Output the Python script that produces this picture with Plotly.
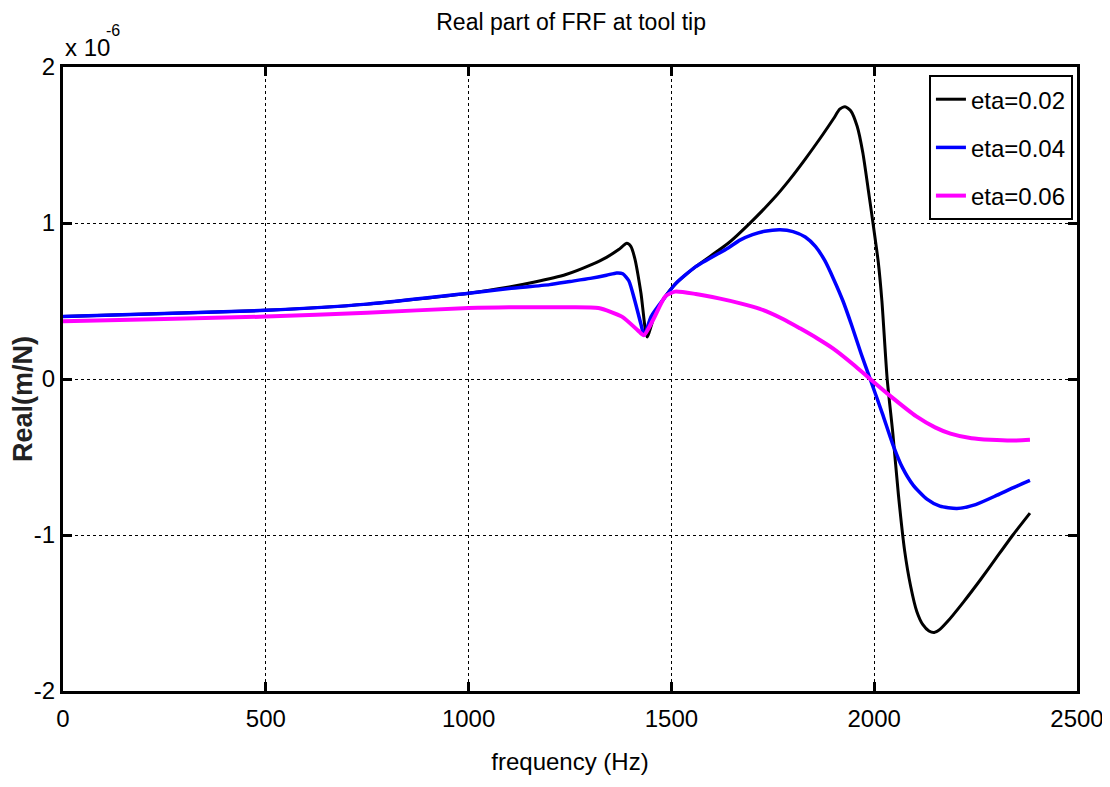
import plotly.graph_objects as go

# ---- data (values in units of 1e-6 m/N) ----
f_002 = [0, 250, 500, 750, 1000, 1100, 1160, 1240, 1300, 1340, 1370, 1390, 1400, 1410, 1425,
         1440, 1460, 1480, 1510, 1560, 1640, 1690, 1750, 1792, 1830, 1866, 1900, 1915, 1928,
         1942, 1958, 1972, 1985, 1997, 2010, 2019, 2032, 2046, 2060, 2075, 2090, 2105, 2120,
         2135, 2148, 2162, 2179, 2220, 2261, 2300, 2342, 2384]
v_002 = [0.40, 0.42, 0.44, 0.48, 0.55, 0.59, 0.62, 0.67, 0.73, 0.78, 0.83, 0.87, 0.85, 0.77, 0.55,
         0.27, 0.42, 0.51, 0.61, 0.72, 0.87, 0.99, 1.15, 1.28, 1.41, 1.54, 1.67, 1.73, 1.745,
         1.72, 1.62, 1.45, 1.22, 1.00, 0.75, 0.50, 0.00, -0.35, -0.75, -1.10, -1.33, -1.49, -1.575,
         -1.615, -1.625, -1.605, -1.56, -1.43, -1.29, -1.15, -1.00, -0.86]

f_004 = [0, 250, 500, 750, 1000, 1100, 1200, 1250, 1300, 1340, 1365, 1380, 1395, 1410, 1425,
         1433, 1450, 1480, 1510, 1560, 1640, 1669, 1700, 1730, 1768, 1800, 1830, 1855, 1878,
         1900, 1923, 1945, 1968, 1990, 2020, 2046, 2070, 2096, 2130, 2162, 2204, 2250, 2303,
         2340, 2384]
v_004 = [0.40, 0.42, 0.44, 0.48, 0.55, 0.58, 0.605, 0.625, 0.645, 0.665, 0.68, 0.675, 0.63, 0.50, 0.35,
         0.28, 0.40, 0.51, 0.61, 0.72, 0.84, 0.89, 0.925, 0.947, 0.957, 0.945, 0.91, 0.85, 0.76,
         0.64, 0.50, 0.34, 0.16, 0.00, -0.22, -0.42, -0.57, -0.68, -0.77, -0.815, -0.83, -0.805, -0.745,
         -0.70, -0.65]

f_006 = [0, 250, 500, 750, 1000, 1100, 1238, 1320, 1378, 1418, 1432, 1455, 1485, 1509, 1560,
         1620, 1670, 1718, 1775, 1817, 1860, 1899, 1950, 1990, 2040, 2104, 2150, 2188, 2240,
         2287, 2340, 2384]
v_006 = [0.37, 0.385, 0.40, 0.425, 0.455, 0.46, 0.46, 0.455, 0.40, 0.31, 0.28, 0.38, 0.53, 0.56, 0.545,
         0.515, 0.485, 0.45, 0.385, 0.325, 0.26, 0.195, 0.09, 0.00, -0.11, -0.24, -0.31, -0.35, -0.38,
         -0.39, -0.395, -0.39]

series_names = ["eta=0.02", "eta=0.04", "eta=0.06"]
x_ticks = [0, 500, 1000, 1500, 2000, 2500]
y_ticks = [-2, -1, 0, 1, 2]

FONT = "Liberation Sans, Arial, Helvetica, sans-serif"

fig = go.Figure()
for fx, vy, name, col, w in [(f_002, v_002, series_names[0], "#000000", 3),
                              (f_004, v_004, series_names[1], "#0000ff", 3.5),
                              (f_006, v_006, series_names[2], "#ff00ff", 4)]:
    fig.add_trace(go.Scatter(x=fx, y=vy, mode="lines", name=name, legendgroup=name,
                             line=dict(color=col, width=w, shape="spline", smoothing=0.6)))

axis_common = dict(showline=True, linecolor="black", linewidth=3, mirror="ticks",
                   ticks="inside", ticklen=9, tickwidth=3, tickcolor="black",
                   showgrid=True, gridcolor="black", gridwidth=1, griddash="dot",
                   zeroline=False, automargin=False,
                   tickfont=dict(family=FONT, size=24, color="black"))

fig.update_xaxes(range=[0, 2500], tickvals=x_ticks, ticktext=[str(t) for t in x_ticks],
                 ticklabelstandoff=4,
                 title=dict(text="frequency (Hz)", font=dict(family=FONT, size=24, color="black"),
                            standoff=23),
                 **axis_common)
fig.update_yaxes(range=[-2, 2], tickvals=y_ticks, ticktext=[str(t) for t in y_ticks],
                 **axis_common)

fig.update_layout(
    width=1102, height=779,
    margin=dict(l=55, r=33, t=59, b=96, autoexpand=False),
    paper_bgcolor="white", plot_bgcolor="white",
    title=dict(text="Real part of FRF at tool tip", x=0.511, xanchor="center", y=0.982, yanchor="middle",
               font=dict(family=FONT, size=23, color="black")),
    legend=dict(x=0.996, y=0.987, xanchor="right", yanchor="top",
                bordercolor="black", borderwidth=2, bgcolor="white",
                font=dict(family=FONT, size=24, color="black"),
                tracegroupgap=14, itemwidth=30),
    showlegend=True,
    annotations=[
        dict(text="<b>Real(m/N)</b>", xref="paper", yref="paper", x=-0.0395, y=0.468,
             xanchor="center", yanchor="middle", textangle=-90, showarrow=False,
             font=dict(family=FONT, size=27, color="#222")),
        dict(text="x 10", xref="paper", yref="paper", x=0.0, y=1.032,
             xanchor="left", yanchor="middle", showarrow=False,
             font=dict(family=FONT, size=24, color="black")),
        dict(text="-6", xref="paper", yref="paper", x=0.049, y=1.059,
             xanchor="center", yanchor="middle", showarrow=False,
             font=dict(family=FONT, size=16, color="black")),
    ],
)

fig.write_html("out.html")
